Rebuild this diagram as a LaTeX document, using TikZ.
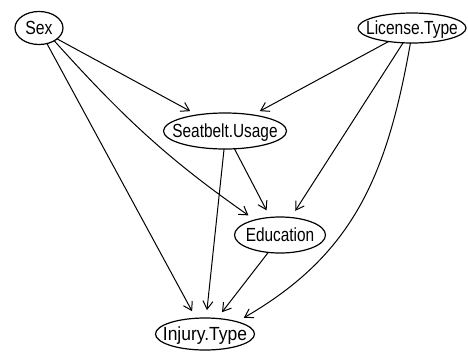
\documentclass[tikz,border=0pt]{standalone}
\usepackage{fontspec}
\setmainfont{Liberation Sans}
\usepackage{graphicx}
\usetikzlibrary{shapes.geometric,arrows.meta}
\newcommand\hsq[2]{\makebox[0pt][c]{\scalebox{#1}[1]{#2}}}
\begin{document}
\begin{tikzpicture}[x=1pt,y=1pt,
  nd/.style={draw, ellipse, line width=1.2pt, inner sep=0pt, outer sep=0pt,
    text height=15pt, text depth=1.5pt, font=\fontsize{19}{21}\selectfont},
  ed/.style={line width=1pt, -{Straight Barb[length=8pt,width=10pt]}, shorten >=8pt}]
\path[use as bounding box, fill=white] (0,0) rectangle (468,-354);
\node[nd, minimum width=48pt, minimum height=33pt] (sex) at (39,-28) {\hsq{0.83}{Sex}};
\node[nd, minimum width=108pt, minimum height=30pt] (lic) at (412,-28) {\hsq{0.82}{License.Type}};
\node[nd, minimum width=123pt, minimum height=36pt] (seat) at (225,-131) {\hsq{0.81}{Seatbelt.Usage}};
\node[nd, minimum width=91pt, minimum height=36pt] (edu) at (280,-235) {\hsq{0.81}{Education}};
\node[nd, minimum width=99pt, minimum height=32pt] (inj) at (205,-334) {\hsq{0.92}{Injury.Type}};
\draw[ed] (sex.-31) -- (seat.150);
\draw[ed] (sex.-40) to[out=-48,in=145] (edu.149);
\draw[ed] (sex.-63) -- (inj.120);
\draw[ed] (lic.-150) -- (seat.30);
\draw[ed] (lic.-121) -- (edu.58);
\draw[ed] (lic.-96) to[out=-100,in=30,looseness=1.05] (inj.21);
\draw[ed] (seat.-62) -- (edu.119);
\draw[ed] (seat.-93) -- (inj.86);
\draw[ed] (edu.-124) -- (inj.52);
\end{tikzpicture}
\end{document}
